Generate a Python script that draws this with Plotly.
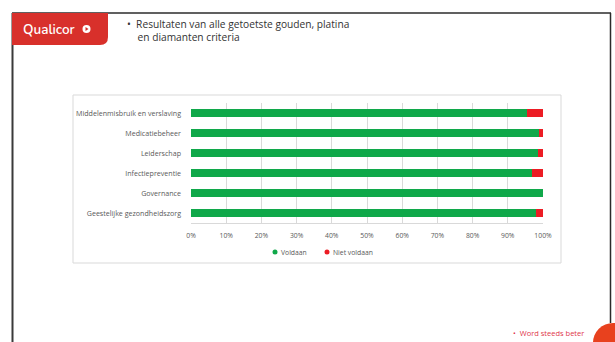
import plotly.graph_objects as go

# Criteria (top to bottom as shown) and results in percent
categories = [
    "Middelenmisbruik en verslaving",
    "Medicatiebeheer",
    "Leiderschap",
    "Infectiepreventie",
    "Governance",
    "Geestelijke gezondheidszorg",
]
voldaan = [95.5, 99.0, 98.5, 97.0, 100.0, 98.0]
niet_voldaan = [4.5, 1.0, 1.5, 3.0, 0.0, 2.0]
series_names = ["Voldaan", "Niet voldaan"]
tick_values = [0, 10, 20, 30, 40, 50, 60, 70, 80, 90, 100]
tick_labels = [f"{v}%" for v in tick_values]

W, H = 615, 342
PL, PR, PT, PB = 191, 543, 103, 223  # plot area in pixels


def px(x):
    return (x - PL) / (PR - PL)


def py(y):
    return (PB - y) / (PB - PT)


GREEN = "#10A84A"
RED = "#EC1C24"
FONT = "Open Sans, Noto Sans, sans-serif"

fig = go.Figure()
fig.add_trace(go.Bar(
    y=categories, x=voldaan, orientation="h", name=series_names[0],
    marker=dict(color=GREEN, line=dict(width=0)),
))
fig.add_trace(go.Bar(
    y=categories, x=niet_voldaan, orientation="h", name=series_names[1],
    marker=dict(color=RED, line=dict(width=0)),
))

shapes = []
# slide border (top, left, right)
shapes.append(dict(type="line", xref="paper", yref="paper",
                   x0=px(12), x1=px(611), y0=py(13), y1=py(13),
                   line=dict(color="#2b2b2b", width=1.5), layer="above"))
shapes.append(dict(type="line", xref="paper", yref="paper",
                   x0=px(12.5), x1=px(12.5), y0=py(13), y1=py(342),
                   line=dict(color="#3a3a3a", width=2), layer="above"))
shapes.append(dict(type="line", xref="paper", yref="paper",
                   x0=px(610.5), x1=px(610.5), y0=py(13), y1=py(323),
                   line=dict(color="#2b2b2b", width=1.5), layer="above"))

# logo block with rounded lower-right corner
r = 8
path = f"M {px(12)},{py(13)} L {px(108)},{py(13)} L {px(108)},{py(45 - r)} "
path += f"Q {px(108)},{py(45)} {px(108 - r)},{py(45)} "
path += f"L {px(12)},{py(45)} Z"
shapes.append(dict(type="path", xref="paper", yref="paper", path=path,
                   fillcolor="#D8302B", line=dict(width=0), layer="above"))
# logo icon circle
shapes.append(dict(type="circle", xref="paper", yref="paper",
                   x0=px(82.5), x1=px(90.5), y0=py(25), y1=py(33),
                   fillcolor="white", line=dict(width=0), layer="above"))
shapes.append(dict(type="path", xref="paper", yref="paper",
                   path=f"M {px(85.5)},{py(27)} L {px(88.5)},{py(29)} L {px(85.5)},{py(31)} Z",
                   fillcolor="#D8302B", line=dict(width=0), layer="above"))

# chart frame
shapes.append(dict(type="rect", xref="paper", yref="paper",
                   x0=px(73), x1=px(561), y0=py(95), y1=py(263),
                   line=dict(color="#d9d9d9", width=1), fillcolor="rgba(0,0,0,0)",
                   layer="below"))

# red corner disc
shapes.append(dict(type="circle", xref="paper", yref="paper",
                   x0=px(593), x1=px(633), y0=py(323), y1=py(363),
                   fillcolor="#E8411E", line=dict(width=0), layer="above"))

annotations = [
    dict(text="Qualicor", x=px(21), y=py(29), xref="paper", yref="paper",
         xanchor="left", yanchor="middle", showarrow=False,
         font=dict(family="Nunito, Lato, sans-serif", size=13.5, color="white",
                   weight=600)),
    dict(text="•  Resultaten van alle getoetste gouden, platina<br>    en diamanten criteria",
         x=px(125), y=py(14.5), xref="paper", yref="paper",
         xanchor="left", yanchor="top", align="left", showarrow=False,
         font=dict(family=FONT, size=10.2, color="#333333")),
    dict(text="•  Word steeds beter", x=px(511), y=py(333), xref="paper", yref="paper",
         xanchor="left", yanchor="middle", showarrow=False,
         font=dict(family=FONT, size=7.5, color="#E0354A")),
]

# compact legend: small round keys followed closely by the series name
legend_keys = [(275, GREEN), (327, RED)]
for (lx, col), name in zip(legend_keys, series_names):
    shapes.append(dict(type="circle", xref="paper", yref="paper",
                       x0=px(lx - 2.5), x1=px(lx + 2.5), y0=py(249.5), y1=py(254.5),
                       fillcolor=col, line=dict(width=0), layer="above"))
    annotations.append(dict(text=name, x=px(lx + 4), y=py(252), xref="paper",
                            yref="paper", xanchor="left", yanchor="middle",
                            showarrow=False,
                            font=dict(family=FONT, size=6.8, color="#595959")))

fig.update_layout(
    width=W, height=H,
    margin=dict(l=PL, r=W - PR, t=PT, b=H - PB, pad=0),
    paper_bgcolor="white", plot_bgcolor="white",
    barmode="stack", bargap=0.62,
    showlegend=False,
    xaxis=dict(range=[0, 100], tickvals=tick_values, ticktext=tick_labels,
               showgrid=True, gridcolor="#d9d9d9", gridwidth=1,
               zeroline=False, showline=True, linecolor="#d9d9d9",
               ticks="", tickfont=dict(family=FONT, size=6.8, color="#595959"),
               ticklabelstandoff=6, fixedrange=True),
    yaxis=dict(categoryorder="array", categoryarray=categories[::-1],
               showgrid=False, zeroline=False, showline=False, ticks="",
               tickfont=dict(family=FONT, size=7.1, color="#595959"),
               ticklabelstandoff=9, fixedrange=True),
    shapes=shapes, annotations=annotations,
)

fig.write_html("out.html")
